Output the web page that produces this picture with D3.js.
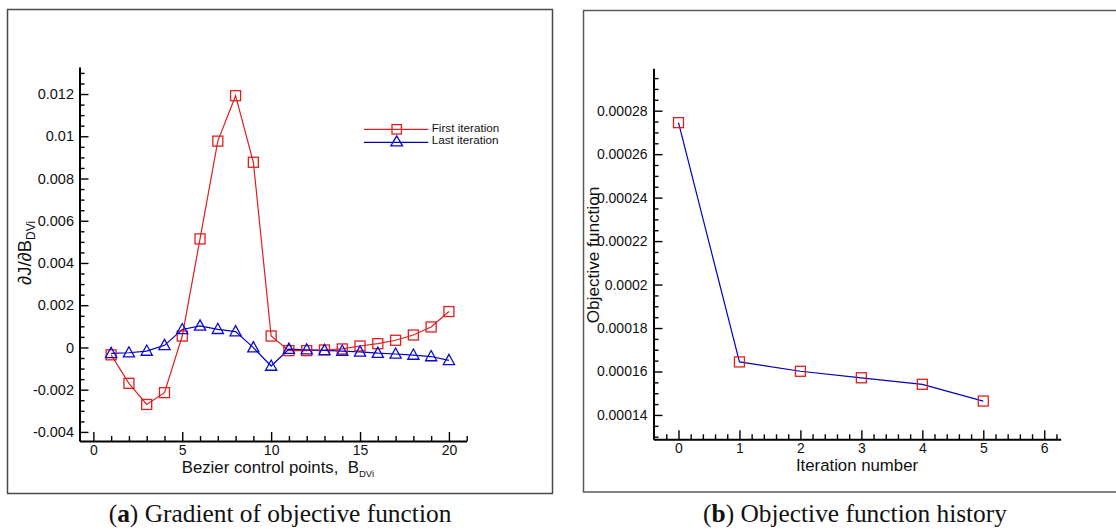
<!DOCTYPE html>
<html>
<head>
<meta charset="utf-8">
<script src="https://cdn.jsdelivr.net/npm/d3@7"></script>
<style>
  html, body { margin: 0; padding: 0; background: #fff; }
  svg { display: block; }
  text { white-space: pre; }
</style>
</head>
<body>
<svg id="chart" width="1116" height="529"></svg>
<script>
// ---------- DATA ----------
const controlPoints = [1,2,3,4,5,6,7,8,9,10,11,12,13,14,15,16,17,18,19,20];
const firstIteration = [-0.00035,-0.0017,-0.0027,-0.00214,0.00054,0.00514,0.00977,0.01192,0.00877,0.00054,
                        -0.00015,-0.00015,-0.00012,-0.00007,0.00007,0.00018,0.00034,0.00059,0.00097,0.0017];
const lastIteration = [-0.00028,-0.00025,-0.00017,0.0001,0.00085,0.00102,0.00086,0.00075,-0.00001,-0.00088,
                       -0.00008,-0.00011,-0.00014,-0.00017,-0.00021,-0.00027,-0.00031,-0.00036,-0.00043,-0.00061];
const legendLabels = ["First iteration", "Last iteration"];
const gradXTicks = [0,5,10,15,20];
const gradYTicks = [-0.004,-0.002,0,0.002,0.004,0.006,0.008,0.01,0.012];
const gradYTickLabels = ["-0.004","-0.002","0","0.002","0.004","0.006","0.008","0.01","0.012"];

const iterations = [0,1,2,3,4,5];
const objective = [0.0002745,0.0001644,0.0001601,0.0001571,0.0001541,0.0001464];
const objXTicks = [0,1,2,3,4,5,6];
const objYTicks = [0.00014,0.00016,0.00018,0.0002,0.00022,0.00024,0.00026,0.00028];
const objYTickLabels = ["0.00014","0.00016","0.00018","0.0002","0.00022","0.00024","0.00026","0.00028"];

const captions = [
  {label: "a", text: " Gradient of objective function"},
  {label: "b", text: " Objective function history"}
];

// ---------- STYLE ----------
const RED = "#e01e1e", BLUE = "#0000c4", BLUE_M = "#0a0ad2";
const SANS = "'Liberation Sans', Arial, Helvetica, sans-serif";
const SERIF = "'Liberation Serif', 'Times New Roman', serif";

const svg = d3.select("#chart");

// frames
svg.append("rect").attr("x",7.5).attr("y",9.5).attr("width",545).attr("height",484)
  .attr("fill","none").attr("stroke","#4a4a4a").attr("stroke-width",1.5);
svg.append("rect").attr("x",583.5).attr("y",10.5).attr("width",560).attr("height",481.5)
  .attr("fill","none").attr("stroke","#5a5a5a").attr("stroke-width",1.5);

function styleAxis(g, fs) {
  g.select(".domain").attr("stroke","#000").attr("stroke-width",2);
  g.selectAll(".tick line").attr("stroke","#000").attr("stroke-width",1.4);
  g.selectAll("text").attr("font-family",SANS).attr("font-size",fs).attr("fill","#111");
  g.attr("font-family",SANS);
}
function styleMinor(g) {
  g.select(".domain").remove();
  g.selectAll(".tick line").attr("stroke","#000").attr("stroke-width",1.4);
}

// ---------- LEFT PANEL ----------
const xG = d3.scaleLinear().domain([-0.78, 21.0]).range([79.5, 466.7]);
const yG = d3.scaleLinear().domain([-0.00443, 0.01328]).range([441, 67]);

const gxMinor = d3.range(1, 22).filter(v => v % 5 !== 0);
const gyMinor = d3.range(-8, 27).map(v => v * 0.0005).filter(v => Math.abs((v/0.002) - Math.round(v/0.002)) > 1e-6);

svg.append("g").attr("transform","translate(0,441)")
  .call(d3.axisBottom(xG).tickValues(gxMinor).tickSizeInner(-5).tickSizeOuter(0).tickFormat(""))
  .call(styleMinor);
svg.append("g").attr("transform","translate(79.5,0)")
  .call(d3.axisLeft(yG).tickValues(gyMinor).tickSizeInner(-5).tickSizeOuter(0).tickFormat(""))
  .call(styleMinor);

svg.append("g").attr("transform","translate(0,441)")
  .call(d3.axisBottom(xG).tickValues(gradXTicks).tickSizeInner(-9).tickSizeOuter(0).tickPadding(4.5).tickFormat(d3.format("d")))
  .call(g => styleAxis(g, 14));
svg.append("g").attr("transform","translate(79.5,0)")
  .call(d3.axisLeft(yG).tickValues(gradYTicks).tickSizeInner(-9).tickSizeOuter(0).tickPadding(5.5)
        .tickFormat((d,i) => gradYTickLabels[i]))
  .call(g => styleAxis(g, 14.5));

const lineG = d3.line().x((d,i) => xG(controlPoints[i])).y(d => yG(d));
svg.append("path").attr("d", lineG(firstIteration)).attr("fill","none").attr("stroke",RED).attr("stroke-width",1.2);
svg.append("path").attr("d", lineG(lastIteration)).attr("fill","none").attr("stroke",BLUE).attr("stroke-width",1.2);

const SQ = 10;
const triPath = "M0,-6L5.6,4.2L-5.6,4.2Z";
svg.append("g").selectAll("rect").data(firstIteration).join("rect")
  .attr("x",(d,i) => xG(controlPoints[i]) - SQ/2).attr("y", d => yG(d) - SQ/2)
  .attr("width",SQ).attr("height",SQ).attr("fill","none").attr("stroke",RED).attr("stroke-width",1.3);
svg.append("g").selectAll("path").data(lastIteration).join("path")
  .attr("transform",(d,i) => `translate(${xG(controlPoints[i])},${yG(d)})`)
  .attr("d",triPath).attr("fill","none").attr("stroke",BLUE_M).attr("stroke-width",1.3);

// legend
const legY = [129.3, 142.3];
const legCols = [RED, BLUE];
legendLabels.forEach((lab, i) => {
  svg.append("line").attr("x1",364).attr("x2",428.3).attr("y1",legY[i]).attr("y2",legY[i])
    .attr("stroke",legCols[i]).attr("stroke-width",1.2);
  if (i === 0) {
    svg.append("rect").attr("x",396.7-4.7).attr("y",legY[i]-4.7).attr("width",9.4).attr("height",9.4)
      .attr("fill","none").attr("stroke",RED).attr("stroke-width",1.3);
  } else {
    svg.append("path").attr("transform",`translate(396.7,${legY[i]-1})`).attr("d","M0,-5.5L5.8,4.5L-5.8,4.5Z")
      .attr("fill","none").attr("stroke",BLUE_M).attr("stroke-width",1.3);
  }
  svg.append("text").attr("x",431.7).attr("y",legY[i]+2.4+(i===1?-0.3:0)).attr("font-family",SANS)
    .attr("font-size",11.7).attr("fill","#111").text(lab);
});

// axis titles
const xt = svg.append("text").attr("x",181.7).attr("y",472.5).attr("font-family",SANS).attr("font-size",16.8).attr("fill","#111");
xt.append("tspan").text("Bezier control points,  B");
xt.append("tspan").attr("font-size",9.5).attr("dy",4.5).text("DVi");

const yt = svg.append("text").attr("transform","translate(31,285) rotate(-90)").attr("font-family",SANS).attr("font-size",18.5).attr("fill","#111");
yt.append("tspan").text("\u2202J/\u2202B");
yt.append("tspan").attr("font-size",12).attr("dy",3.5).text("DVi");

// ---------- RIGHT PANEL ----------
const xO = d3.scaleLinear().domain([-0.41, 6.27]).range([653.5, 1060.7]);
const yO = d3.scaleLinear().domain([0.0001288, 0.0002995]).range([439.3, 68.3]);

const oxMinor = d3.range(-1, 32).map(v => v * 0.2).filter(v => Math.abs(v - Math.round(v)) > 1e-6);
const oyMinor = d3.range(26, 60).map(v => v * 0.000005).filter(v => Math.abs(v/0.00002 - Math.round(v/0.00002)) > 1e-6);

svg.append("g").attr("transform","translate(0,439.3)")
  .call(d3.axisBottom(xO).tickValues(oxMinor).tickSizeInner(-5).tickSizeOuter(0).tickFormat(""))
  .call(styleMinor);
svg.append("g").attr("transform","translate(653.5,0)")
  .call(d3.axisLeft(yO).tickValues(oyMinor).tickSizeInner(-5).tickSizeOuter(0).tickFormat(""))
  .call(styleMinor);

svg.append("g").attr("transform","translate(0,439.3)")
  .call(d3.axisBottom(xO).tickValues(objXTicks).tickSizeInner(-9).tickSizeOuter(0).tickPadding(3.8).tickFormat(d3.format("d")))
  .call(g => styleAxis(g, 14));
svg.append("g").attr("transform","translate(653.5,0)")
  .call(d3.axisLeft(yO).tickValues(objYTicks).tickSizeInner(-9).tickSizeOuter(0).tickPadding(6)
        .tickFormat((d,i) => objYTickLabels[i]))
  .call(g => styleAxis(g, 14));

const lineO = d3.line().x((d,i) => xO(iterations[i])).y(d => yO(d));
svg.append("path").attr("d", lineO(objective)).attr("fill","none").attr("stroke",BLUE).attr("stroke-width",1.2);
svg.append("g").selectAll("rect").data(objective).join("rect")
  .attr("x",(d,i) => xO(iterations[i]) - SQ/2).attr("y", d => yO(d) - SQ/2)
  .attr("width",SQ).attr("height",SQ).attr("fill","none").attr("stroke",RED).attr("stroke-width",1.3);

svg.append("text").attr("x",857).attr("y",471).attr("text-anchor","middle").attr("font-family",SANS)
  .attr("font-size",16.8).attr("fill","#111").text("Iteration number");
svg.append("text").attr("transform","translate(599,255) rotate(-90)").attr("text-anchor","middle")
  .attr("font-family",SANS).attr("font-size",17.2).attr("fill","#111").text("Objective function");

// ---------- CAPTIONS ----------
const capX = [280, 855];
captions.forEach((c, i) => {
  const t = svg.append("text").attr("x",capX[i]).attr("y",522).attr("text-anchor","middle")
    .attr("font-family",SERIF).attr("font-size",25.4).attr("fill","#111");
  t.append("tspan").text("(");
  t.append("tspan").attr("font-weight","bold").text(c.label);
  t.append("tspan").text(")" + c.text);
});
</script>
</body>
</html>
